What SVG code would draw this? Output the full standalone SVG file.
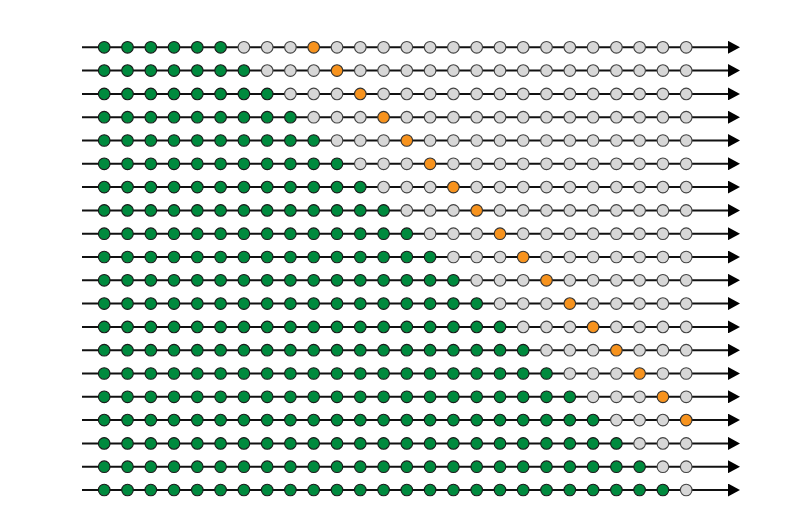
<svg xmlns="http://www.w3.org/2000/svg" width="804" height="521" viewBox="0 0 804 521">
<style>
.c{stroke:#111;stroke-width:2}
circle{r:5.8px;stroke-width:1.1}
.g{fill:#008a3e;stroke:#1a1a1a}
.o{fill:#f7931e;stroke:#333}
.e{fill:#d7d7d7;stroke:#444}
</style>
<defs>
<marker id="ah" markerUnits="userSpaceOnUse" markerWidth="12" markerHeight="13" refX="1" refY="6.5" orient="auto"><path d="M0,0 L12,6.5 L0,13 z" fill="#000"/></marker>
</defs>
<rect width="804" height="521" fill="#fff"/>
<g id="connectors">
<line class="c" x1="82" y1="47.3" x2="729" y2="47.3" marker-end="url(#ah)"/>
<line class="c" x1="82" y1="70.6" x2="729" y2="70.6" marker-end="url(#ah)"/>
<line class="c" x1="82" y1="93.9" x2="729" y2="93.9" marker-end="url(#ah)"/>
<line class="c" x1="82" y1="117.2" x2="729" y2="117.2" marker-end="url(#ah)"/>
<line class="c" x1="82" y1="140.5" x2="729" y2="140.5" marker-end="url(#ah)"/>
<line class="c" x1="82" y1="163.8" x2="729" y2="163.8" marker-end="url(#ah)"/>
<line class="c" x1="82" y1="187.1" x2="729" y2="187.1" marker-end="url(#ah)"/>
<line class="c" x1="82" y1="210.4" x2="729" y2="210.4" marker-end="url(#ah)"/>
<line class="c" x1="82" y1="233.7" x2="729" y2="233.7" marker-end="url(#ah)"/>
<line class="c" x1="82" y1="257" x2="729" y2="257" marker-end="url(#ah)"/>
<line class="c" x1="82" y1="280.3" x2="729" y2="280.3" marker-end="url(#ah)"/>
<line class="c" x1="82" y1="303.6" x2="729" y2="303.6" marker-end="url(#ah)"/>
<line class="c" x1="82" y1="326.9" x2="729" y2="326.9" marker-end="url(#ah)"/>
<line class="c" x1="82" y1="350.2" x2="729" y2="350.2" marker-end="url(#ah)"/>
<line class="c" x1="82" y1="373.5" x2="729" y2="373.5" marker-end="url(#ah)"/>
<line class="c" x1="82" y1="396.8" x2="729" y2="396.8" marker-end="url(#ah)"/>
<line class="c" x1="82" y1="420.1" x2="729" y2="420.1" marker-end="url(#ah)"/>
<line class="c" x1="82" y1="443.4" x2="729" y2="443.4" marker-end="url(#ah)"/>
<line class="c" x1="82" y1="466.7" x2="729" y2="466.7" marker-end="url(#ah)"/>
<line class="c" x1="82" y1="490" x2="729" y2="490" marker-end="url(#ah)"/>
</g>
<g id="row0" transform="translate(0,47.3)">
<circle class="g" cx="104.2"/><circle class="g" cx="127.5"/><circle class="g" cx="150.8"/><circle class="g" cx="174"/><circle class="g" cx="197.3"/><circle class="g" cx="220.6"/><circle class="e" cx="243.9"/><circle class="e" cx="267.2"/><circle class="e" cx="290.4"/><circle class="o" cx="313.7"/><circle class="e" cx="337"/><circle class="e" cx="360.3"/><circle class="e" cx="383.6"/><circle class="e" cx="406.8"/><circle class="e" cx="430.1"/><circle class="e" cx="453.4"/><circle class="e" cx="476.7"/><circle class="e" cx="500"/><circle class="e" cx="523.2"/><circle class="e" cx="546.5"/><circle class="e" cx="569.8"/><circle class="e" cx="593.1"/><circle class="e" cx="616.4"/><circle class="e" cx="639.6"/><circle class="e" cx="662.9"/><circle class="e" cx="686.2"/>
</g>
<g id="row1" transform="translate(0,70.6)">
<circle class="g" cx="104.2"/><circle class="g" cx="127.5"/><circle class="g" cx="150.8"/><circle class="g" cx="174"/><circle class="g" cx="197.3"/><circle class="g" cx="220.6"/><circle class="g" cx="243.9"/><circle class="e" cx="267.2"/><circle class="e" cx="290.4"/><circle class="e" cx="313.7"/><circle class="o" cx="337"/><circle class="e" cx="360.3"/><circle class="e" cx="383.6"/><circle class="e" cx="406.8"/><circle class="e" cx="430.1"/><circle class="e" cx="453.4"/><circle class="e" cx="476.7"/><circle class="e" cx="500"/><circle class="e" cx="523.2"/><circle class="e" cx="546.5"/><circle class="e" cx="569.8"/><circle class="e" cx="593.1"/><circle class="e" cx="616.4"/><circle class="e" cx="639.6"/><circle class="e" cx="662.9"/><circle class="e" cx="686.2"/>
</g>
<g id="row2" transform="translate(0,93.9)">
<circle class="g" cx="104.2"/><circle class="g" cx="127.5"/><circle class="g" cx="150.8"/><circle class="g" cx="174"/><circle class="g" cx="197.3"/><circle class="g" cx="220.6"/><circle class="g" cx="243.9"/><circle class="g" cx="267.2"/><circle class="e" cx="290.4"/><circle class="e" cx="313.7"/><circle class="e" cx="337"/><circle class="o" cx="360.3"/><circle class="e" cx="383.6"/><circle class="e" cx="406.8"/><circle class="e" cx="430.1"/><circle class="e" cx="453.4"/><circle class="e" cx="476.7"/><circle class="e" cx="500"/><circle class="e" cx="523.2"/><circle class="e" cx="546.5"/><circle class="e" cx="569.8"/><circle class="e" cx="593.1"/><circle class="e" cx="616.4"/><circle class="e" cx="639.6"/><circle class="e" cx="662.9"/><circle class="e" cx="686.2"/>
</g>
<g id="row3" transform="translate(0,117.2)">
<circle class="g" cx="104.2"/><circle class="g" cx="127.5"/><circle class="g" cx="150.8"/><circle class="g" cx="174"/><circle class="g" cx="197.3"/><circle class="g" cx="220.6"/><circle class="g" cx="243.9"/><circle class="g" cx="267.2"/><circle class="g" cx="290.4"/><circle class="e" cx="313.7"/><circle class="e" cx="337"/><circle class="e" cx="360.3"/><circle class="o" cx="383.6"/><circle class="e" cx="406.8"/><circle class="e" cx="430.1"/><circle class="e" cx="453.4"/><circle class="e" cx="476.7"/><circle class="e" cx="500"/><circle class="e" cx="523.2"/><circle class="e" cx="546.5"/><circle class="e" cx="569.8"/><circle class="e" cx="593.1"/><circle class="e" cx="616.4"/><circle class="e" cx="639.6"/><circle class="e" cx="662.9"/><circle class="e" cx="686.2"/>
</g>
<g id="row4" transform="translate(0,140.5)">
<circle class="g" cx="104.2"/><circle class="g" cx="127.5"/><circle class="g" cx="150.8"/><circle class="g" cx="174"/><circle class="g" cx="197.3"/><circle class="g" cx="220.6"/><circle class="g" cx="243.9"/><circle class="g" cx="267.2"/><circle class="g" cx="290.4"/><circle class="g" cx="313.7"/><circle class="e" cx="337"/><circle class="e" cx="360.3"/><circle class="e" cx="383.6"/><circle class="o" cx="406.8"/><circle class="e" cx="430.1"/><circle class="e" cx="453.4"/><circle class="e" cx="476.7"/><circle class="e" cx="500"/><circle class="e" cx="523.2"/><circle class="e" cx="546.5"/><circle class="e" cx="569.8"/><circle class="e" cx="593.1"/><circle class="e" cx="616.4"/><circle class="e" cx="639.6"/><circle class="e" cx="662.9"/><circle class="e" cx="686.2"/>
</g>
<g id="row5" transform="translate(0,163.8)">
<circle class="g" cx="104.2"/><circle class="g" cx="127.5"/><circle class="g" cx="150.8"/><circle class="g" cx="174"/><circle class="g" cx="197.3"/><circle class="g" cx="220.6"/><circle class="g" cx="243.9"/><circle class="g" cx="267.2"/><circle class="g" cx="290.4"/><circle class="g" cx="313.7"/><circle class="g" cx="337"/><circle class="e" cx="360.3"/><circle class="e" cx="383.6"/><circle class="e" cx="406.8"/><circle class="o" cx="430.1"/><circle class="e" cx="453.4"/><circle class="e" cx="476.7"/><circle class="e" cx="500"/><circle class="e" cx="523.2"/><circle class="e" cx="546.5"/><circle class="e" cx="569.8"/><circle class="e" cx="593.1"/><circle class="e" cx="616.4"/><circle class="e" cx="639.6"/><circle class="e" cx="662.9"/><circle class="e" cx="686.2"/>
</g>
<g id="row6" transform="translate(0,187.1)">
<circle class="g" cx="104.2"/><circle class="g" cx="127.5"/><circle class="g" cx="150.8"/><circle class="g" cx="174"/><circle class="g" cx="197.3"/><circle class="g" cx="220.6"/><circle class="g" cx="243.9"/><circle class="g" cx="267.2"/><circle class="g" cx="290.4"/><circle class="g" cx="313.7"/><circle class="g" cx="337"/><circle class="g" cx="360.3"/><circle class="e" cx="383.6"/><circle class="e" cx="406.8"/><circle class="e" cx="430.1"/><circle class="o" cx="453.4"/><circle class="e" cx="476.7"/><circle class="e" cx="500"/><circle class="e" cx="523.2"/><circle class="e" cx="546.5"/><circle class="e" cx="569.8"/><circle class="e" cx="593.1"/><circle class="e" cx="616.4"/><circle class="e" cx="639.6"/><circle class="e" cx="662.9"/><circle class="e" cx="686.2"/>
</g>
<g id="row7" transform="translate(0,210.4)">
<circle class="g" cx="104.2"/><circle class="g" cx="127.5"/><circle class="g" cx="150.8"/><circle class="g" cx="174"/><circle class="g" cx="197.3"/><circle class="g" cx="220.6"/><circle class="g" cx="243.9"/><circle class="g" cx="267.2"/><circle class="g" cx="290.4"/><circle class="g" cx="313.7"/><circle class="g" cx="337"/><circle class="g" cx="360.3"/><circle class="g" cx="383.6"/><circle class="e" cx="406.8"/><circle class="e" cx="430.1"/><circle class="e" cx="453.4"/><circle class="o" cx="476.7"/><circle class="e" cx="500"/><circle class="e" cx="523.2"/><circle class="e" cx="546.5"/><circle class="e" cx="569.8"/><circle class="e" cx="593.1"/><circle class="e" cx="616.4"/><circle class="e" cx="639.6"/><circle class="e" cx="662.9"/><circle class="e" cx="686.2"/>
</g>
<g id="row8" transform="translate(0,233.7)">
<circle class="g" cx="104.2"/><circle class="g" cx="127.5"/><circle class="g" cx="150.8"/><circle class="g" cx="174"/><circle class="g" cx="197.3"/><circle class="g" cx="220.6"/><circle class="g" cx="243.9"/><circle class="g" cx="267.2"/><circle class="g" cx="290.4"/><circle class="g" cx="313.7"/><circle class="g" cx="337"/><circle class="g" cx="360.3"/><circle class="g" cx="383.6"/><circle class="g" cx="406.8"/><circle class="e" cx="430.1"/><circle class="e" cx="453.4"/><circle class="e" cx="476.7"/><circle class="o" cx="500"/><circle class="e" cx="523.2"/><circle class="e" cx="546.5"/><circle class="e" cx="569.8"/><circle class="e" cx="593.1"/><circle class="e" cx="616.4"/><circle class="e" cx="639.6"/><circle class="e" cx="662.9"/><circle class="e" cx="686.2"/>
</g>
<g id="row9" transform="translate(0,257)">
<circle class="g" cx="104.2"/><circle class="g" cx="127.5"/><circle class="g" cx="150.8"/><circle class="g" cx="174"/><circle class="g" cx="197.3"/><circle class="g" cx="220.6"/><circle class="g" cx="243.9"/><circle class="g" cx="267.2"/><circle class="g" cx="290.4"/><circle class="g" cx="313.7"/><circle class="g" cx="337"/><circle class="g" cx="360.3"/><circle class="g" cx="383.6"/><circle class="g" cx="406.8"/><circle class="g" cx="430.1"/><circle class="e" cx="453.4"/><circle class="e" cx="476.7"/><circle class="e" cx="500"/><circle class="o" cx="523.2"/><circle class="e" cx="546.5"/><circle class="e" cx="569.8"/><circle class="e" cx="593.1"/><circle class="e" cx="616.4"/><circle class="e" cx="639.6"/><circle class="e" cx="662.9"/><circle class="e" cx="686.2"/>
</g>
<g id="row10" transform="translate(0,280.3)">
<circle class="g" cx="104.2"/><circle class="g" cx="127.5"/><circle class="g" cx="150.8"/><circle class="g" cx="174"/><circle class="g" cx="197.3"/><circle class="g" cx="220.6"/><circle class="g" cx="243.9"/><circle class="g" cx="267.2"/><circle class="g" cx="290.4"/><circle class="g" cx="313.7"/><circle class="g" cx="337"/><circle class="g" cx="360.3"/><circle class="g" cx="383.6"/><circle class="g" cx="406.8"/><circle class="g" cx="430.1"/><circle class="g" cx="453.4"/><circle class="e" cx="476.7"/><circle class="e" cx="500"/><circle class="e" cx="523.2"/><circle class="o" cx="546.5"/><circle class="e" cx="569.8"/><circle class="e" cx="593.1"/><circle class="e" cx="616.4"/><circle class="e" cx="639.6"/><circle class="e" cx="662.9"/><circle class="e" cx="686.2"/>
</g>
<g id="row11" transform="translate(0,303.6)">
<circle class="g" cx="104.2"/><circle class="g" cx="127.5"/><circle class="g" cx="150.8"/><circle class="g" cx="174"/><circle class="g" cx="197.3"/><circle class="g" cx="220.6"/><circle class="g" cx="243.9"/><circle class="g" cx="267.2"/><circle class="g" cx="290.4"/><circle class="g" cx="313.7"/><circle class="g" cx="337"/><circle class="g" cx="360.3"/><circle class="g" cx="383.6"/><circle class="g" cx="406.8"/><circle class="g" cx="430.1"/><circle class="g" cx="453.4"/><circle class="g" cx="476.7"/><circle class="e" cx="500"/><circle class="e" cx="523.2"/><circle class="e" cx="546.5"/><circle class="o" cx="569.8"/><circle class="e" cx="593.1"/><circle class="e" cx="616.4"/><circle class="e" cx="639.6"/><circle class="e" cx="662.9"/><circle class="e" cx="686.2"/>
</g>
<g id="row12" transform="translate(0,326.9)">
<circle class="g" cx="104.2"/><circle class="g" cx="127.5"/><circle class="g" cx="150.8"/><circle class="g" cx="174"/><circle class="g" cx="197.3"/><circle class="g" cx="220.6"/><circle class="g" cx="243.9"/><circle class="g" cx="267.2"/><circle class="g" cx="290.4"/><circle class="g" cx="313.7"/><circle class="g" cx="337"/><circle class="g" cx="360.3"/><circle class="g" cx="383.6"/><circle class="g" cx="406.8"/><circle class="g" cx="430.1"/><circle class="g" cx="453.4"/><circle class="g" cx="476.7"/><circle class="g" cx="500"/><circle class="e" cx="523.2"/><circle class="e" cx="546.5"/><circle class="e" cx="569.8"/><circle class="o" cx="593.1"/><circle class="e" cx="616.4"/><circle class="e" cx="639.6"/><circle class="e" cx="662.9"/><circle class="e" cx="686.2"/>
</g>
<g id="row13" transform="translate(0,350.2)">
<circle class="g" cx="104.2"/><circle class="g" cx="127.5"/><circle class="g" cx="150.8"/><circle class="g" cx="174"/><circle class="g" cx="197.3"/><circle class="g" cx="220.6"/><circle class="g" cx="243.9"/><circle class="g" cx="267.2"/><circle class="g" cx="290.4"/><circle class="g" cx="313.7"/><circle class="g" cx="337"/><circle class="g" cx="360.3"/><circle class="g" cx="383.6"/><circle class="g" cx="406.8"/><circle class="g" cx="430.1"/><circle class="g" cx="453.4"/><circle class="g" cx="476.7"/><circle class="g" cx="500"/><circle class="g" cx="523.2"/><circle class="e" cx="546.5"/><circle class="e" cx="569.8"/><circle class="e" cx="593.1"/><circle class="o" cx="616.4"/><circle class="e" cx="639.6"/><circle class="e" cx="662.9"/><circle class="e" cx="686.2"/>
</g>
<g id="row14" transform="translate(0,373.5)">
<circle class="g" cx="104.2"/><circle class="g" cx="127.5"/><circle class="g" cx="150.8"/><circle class="g" cx="174"/><circle class="g" cx="197.3"/><circle class="g" cx="220.6"/><circle class="g" cx="243.9"/><circle class="g" cx="267.2"/><circle class="g" cx="290.4"/><circle class="g" cx="313.7"/><circle class="g" cx="337"/><circle class="g" cx="360.3"/><circle class="g" cx="383.6"/><circle class="g" cx="406.8"/><circle class="g" cx="430.1"/><circle class="g" cx="453.4"/><circle class="g" cx="476.7"/><circle class="g" cx="500"/><circle class="g" cx="523.2"/><circle class="g" cx="546.5"/><circle class="e" cx="569.8"/><circle class="e" cx="593.1"/><circle class="e" cx="616.4"/><circle class="o" cx="639.6"/><circle class="e" cx="662.9"/><circle class="e" cx="686.2"/>
</g>
<g id="row15" transform="translate(0,396.8)">
<circle class="g" cx="104.2"/><circle class="g" cx="127.5"/><circle class="g" cx="150.8"/><circle class="g" cx="174"/><circle class="g" cx="197.3"/><circle class="g" cx="220.6"/><circle class="g" cx="243.9"/><circle class="g" cx="267.2"/><circle class="g" cx="290.4"/><circle class="g" cx="313.7"/><circle class="g" cx="337"/><circle class="g" cx="360.3"/><circle class="g" cx="383.6"/><circle class="g" cx="406.8"/><circle class="g" cx="430.1"/><circle class="g" cx="453.4"/><circle class="g" cx="476.7"/><circle class="g" cx="500"/><circle class="g" cx="523.2"/><circle class="g" cx="546.5"/><circle class="g" cx="569.8"/><circle class="e" cx="593.1"/><circle class="e" cx="616.4"/><circle class="e" cx="639.6"/><circle class="o" cx="662.9"/><circle class="e" cx="686.2"/>
</g>
<g id="row16" transform="translate(0,420.1)">
<circle class="g" cx="104.2"/><circle class="g" cx="127.5"/><circle class="g" cx="150.8"/><circle class="g" cx="174"/><circle class="g" cx="197.3"/><circle class="g" cx="220.6"/><circle class="g" cx="243.9"/><circle class="g" cx="267.2"/><circle class="g" cx="290.4"/><circle class="g" cx="313.7"/><circle class="g" cx="337"/><circle class="g" cx="360.3"/><circle class="g" cx="383.6"/><circle class="g" cx="406.8"/><circle class="g" cx="430.1"/><circle class="g" cx="453.4"/><circle class="g" cx="476.7"/><circle class="g" cx="500"/><circle class="g" cx="523.2"/><circle class="g" cx="546.5"/><circle class="g" cx="569.8"/><circle class="g" cx="593.1"/><circle class="e" cx="616.4"/><circle class="e" cx="639.6"/><circle class="e" cx="662.9"/><circle class="o" cx="686.2"/>
</g>
<g id="row17" transform="translate(0,443.4)">
<circle class="g" cx="104.2"/><circle class="g" cx="127.5"/><circle class="g" cx="150.8"/><circle class="g" cx="174"/><circle class="g" cx="197.3"/><circle class="g" cx="220.6"/><circle class="g" cx="243.9"/><circle class="g" cx="267.2"/><circle class="g" cx="290.4"/><circle class="g" cx="313.7"/><circle class="g" cx="337"/><circle class="g" cx="360.3"/><circle class="g" cx="383.6"/><circle class="g" cx="406.8"/><circle class="g" cx="430.1"/><circle class="g" cx="453.4"/><circle class="g" cx="476.7"/><circle class="g" cx="500"/><circle class="g" cx="523.2"/><circle class="g" cx="546.5"/><circle class="g" cx="569.8"/><circle class="g" cx="593.1"/><circle class="g" cx="616.4"/><circle class="e" cx="639.6"/><circle class="e" cx="662.9"/><circle class="e" cx="686.2"/>
</g>
<g id="row18" transform="translate(0,466.7)">
<circle class="g" cx="104.2"/><circle class="g" cx="127.5"/><circle class="g" cx="150.8"/><circle class="g" cx="174"/><circle class="g" cx="197.3"/><circle class="g" cx="220.6"/><circle class="g" cx="243.9"/><circle class="g" cx="267.2"/><circle class="g" cx="290.4"/><circle class="g" cx="313.7"/><circle class="g" cx="337"/><circle class="g" cx="360.3"/><circle class="g" cx="383.6"/><circle class="g" cx="406.8"/><circle class="g" cx="430.1"/><circle class="g" cx="453.4"/><circle class="g" cx="476.7"/><circle class="g" cx="500"/><circle class="g" cx="523.2"/><circle class="g" cx="546.5"/><circle class="g" cx="569.8"/><circle class="g" cx="593.1"/><circle class="g" cx="616.4"/><circle class="g" cx="639.6"/><circle class="e" cx="662.9"/><circle class="e" cx="686.2"/>
</g>
<g id="row19" transform="translate(0,490)">
<circle class="g" cx="104.2"/><circle class="g" cx="127.5"/><circle class="g" cx="150.8"/><circle class="g" cx="174"/><circle class="g" cx="197.3"/><circle class="g" cx="220.6"/><circle class="g" cx="243.9"/><circle class="g" cx="267.2"/><circle class="g" cx="290.4"/><circle class="g" cx="313.7"/><circle class="g" cx="337"/><circle class="g" cx="360.3"/><circle class="g" cx="383.6"/><circle class="g" cx="406.8"/><circle class="g" cx="430.1"/><circle class="g" cx="453.4"/><circle class="g" cx="476.7"/><circle class="g" cx="500"/><circle class="g" cx="523.2"/><circle class="g" cx="546.5"/><circle class="g" cx="569.8"/><circle class="g" cx="593.1"/><circle class="g" cx="616.4"/><circle class="g" cx="639.6"/><circle class="g" cx="662.9"/><circle class="e" cx="686.2"/>
</g>
</svg>
